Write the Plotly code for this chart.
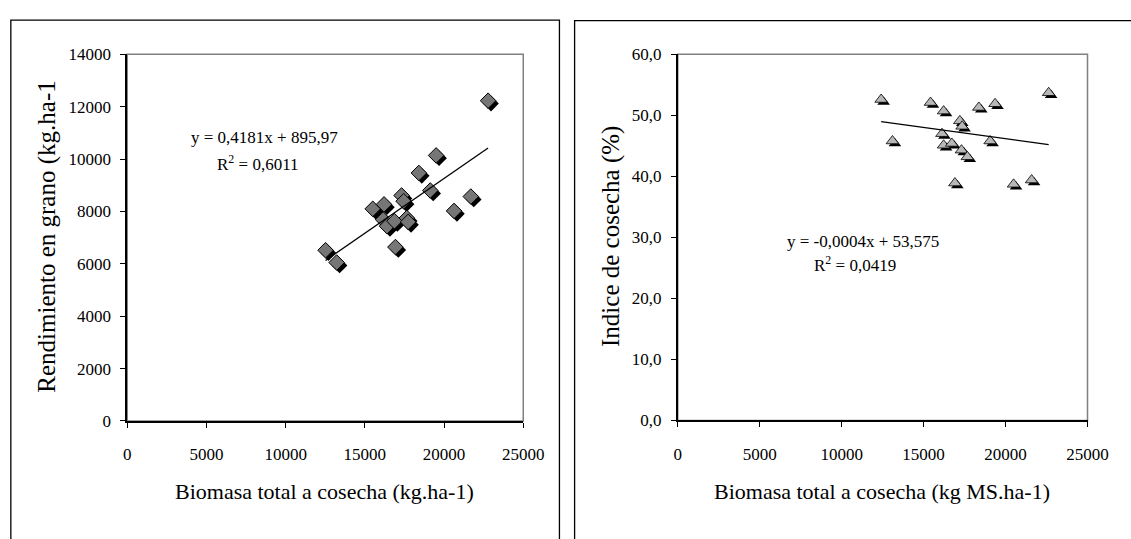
import plotly.graph_objects as go

# ---------------- data ----------------
# Left panel: grain yield vs total biomass
biomasa_izq = [12520, 13220, 15500, 16210, 16150, 16400, 16870, 17320, 17450,
               17650, 17730, 16930, 18410, 19130, 19500, 20630, 21690, 22780]
rendimiento = [6520, 6050, 8100, 8270, 7690, 7440, 7630, 8610, 8390,
               7750, 7600, 6640, 9470, 8800, 10140, 8020, 8570, 12230]

# Right panel: harvest index vs total biomass
biomasa_der = [12410, 13100, 15420, 16220, 17210, 17350, 16120, 16220, 16720,
               17310, 17670, 16910, 18370, 19360, 19060, 20490, 21590, 22630]
indice = [52.6, 45.8, 52.1, 50.7, 49.1, 48.2, 47.0, 45.1, 45.4,
          44.3, 43.2, 38.9, 51.3, 51.9, 45.8, 38.7, 39.4, 53.7]

# Trendline coefficients
pend_izq, inter_izq = 0.4181, 895.97
pend_der, inter_der = -0.00037, 53.575

x_ticks = [0, 5000, 10000, 15000, 20000, 25000]
x_ticklabels = ["0", "5000", "10000", "15000", "20000", "25000"]
y1_ticks = [0, 2000, 4000, 6000, 8000, 10000, 12000, 14000]
y1_ticklabels = ["0", "2000", "4000", "6000", "8000", "10000", "12000", "14000"]
y2_ticks = [0, 10, 20, 30, 40, 50, 60]
y2_ticklabels = ["0,0", "10,0", "20,0", "30,0", "40,0", "50,0", "60,0"]

eq_izq = "y = 0,4181x + 895,97"
r2_izq = "R<sup>2</sup> = 0,6011"
eq_der = "y = -0,0004x + 53,575"
r2_der = "R<sup>2</sup> = 0,0419"

# ---------------- layout helpers ----------------
W, H = 1131, 539
def px(x):
    return x / W
def py(y):
    return 1 - y / H

FONT = "Liberation Serif"

# plot-area pixel boxes
L_x0, L_x1, L_y0, L_y1 = 126, 531, 47, 427
R_x0, R_x1, R_y0, R_y1 = 689, 1108, 47, 426.5

x_rng = [0, 25000]
y1_rng = [0, 14000]
y2_rng = [0, 60]

# shadow offset (pixels) converted to data units via each axis scale
sh = 3.0
dxL = sh * (x_rng[1] - x_rng[0]) / (L_x1 - L_x0)
dyL = sh * (y1_rng[1] - y1_rng[0]) / (L_y1 - L_y0)
sh2 = 2.5
dxR = sh2 * (x_rng[1] - x_rng[0]) / (R_x1 - R_x0)
dyR = sh2 * (y2_rng[1] - y2_rng[0]) / (R_y1 - R_y0)

fig = go.Figure()

# ---- left panel ----
fig.add_trace(go.Scatter(
    x=[v + dxL for v in biomasa_izq], y=[v - dyL for v in rendimiento],
    mode="markers", xaxis="x", yaxis="y",
    marker=dict(symbol="diamond", size=12, color="black",
                line=dict(width=0)),
    hoverinfo="skip", showlegend=False))
fig.add_trace(go.Scatter(
    x=biomasa_izq, y=rendimiento, mode="markers", xaxis="x", yaxis="y",
    marker=dict(symbol="diamond", size=12, color="#767676",
                line=dict(width=1, color="black")),
    showlegend=False))
xl = [min(biomasa_izq), max(biomasa_izq)]
fig.add_trace(go.Scatter(
    x=xl, y=[pend_izq * v + inter_izq for v in xl], mode="lines",
    xaxis="x", yaxis="y", line=dict(color="black", width=1.3),
    showlegend=False))

# ---- right panel ----
fig.add_trace(go.Scatter(
    x=[v + dxR for v in biomasa_der], y=[v - dyR for v in indice],
    mode="markers", xaxis="x2", yaxis="y2",
    marker=dict(symbol="triangle-up", size=11, color="black",
                line=dict(width=0)),
    hoverinfo="skip", showlegend=False))
fig.add_trace(go.Scatter(
    x=biomasa_der, y=indice, mode="markers", xaxis="x2", yaxis="y2",
    marker=dict(symbol="triangle-up", size=11, color="#b8b8b8",
                line=dict(width=0.8, color="black")),
    showlegend=False))
xr = [min(biomasa_der), max(biomasa_der)]
fig.add_trace(go.Scatter(
    x=xr, y=[pend_der * v + inter_der for v in xr], mode="lines",
    xaxis="x2", yaxis="y2", line=dict(color="black", width=1.3),
    showlegend=False))

axis_common = dict(
    showgrid=False, zeroline=False, showline=True, linecolor="black",
    linewidth=1.5, ticks="outside", ticklen=5, tickwidth=1.2,
    tickcolor="black", tickfont=dict(family=FONT, size=17, color="black"),
    fixedrange=True,
)

fig.update_layout(
    width=W, height=H,
    margin=dict(l=0, r=0, t=0, b=0),
    paper_bgcolor="white", plot_bgcolor="white",
    font=dict(family=FONT, color="black"),
    xaxis=dict(domain=[px(L_x0), px(L_x1)], range=x_rng, anchor="y",
               tickvals=x_ticks, ticktext=x_ticklabels,
               ticklabelstandoff=12, **axis_common),
    yaxis=dict(domain=[py(L_y1), py(L_y0)], range=y1_rng, anchor="x",
               tickvals=y1_ticks, ticktext=y1_ticklabels,
               ticklabelstandoff=6, **axis_common),
    xaxis2=dict(domain=[px(R_x0), px(R_x1)], range=x_rng, anchor="y2",
                tickvals=x_ticks, ticktext=x_ticklabels,
                ticklabelstandoff=12, **axis_common),
    yaxis2=dict(domain=[py(R_y1), py(R_y0)], range=y2_rng, anchor="x2",
                tickvals=y2_ticks, ticktext=y2_ticklabels,
                ticklabelstandoff=6, **axis_common),
)

shapes = []
# gray plot-area frames (top/right visible; left/bottom covered by axes)
for xr_, yr_ in (("x domain", "y domain"), ("x2 domain", "y2 domain")):
    shapes.append(dict(type="rect", xref=xr_, yref=yr_, x0=0, x1=1, y0=0, y1=1,
                       line=dict(color="#808080", width=1.5), layer="below"))
# outer chart-area borders
shapes.append(dict(type="rect", xref="paper", yref="paper",
                   x0=px(7), x1=px(568), y0=-0.2, y1=py(11.5),
                   line=dict(color="black", width=1.3)))
shapes.append(dict(type="rect", xref="paper", yref="paper",
                   x0=px(583.5), x1=1.2, y0=-0.2, y1=py(12),
                   line=dict(color="black", width=1.3)))
fig.update_layout(shapes=shapes)

ann = []
def text(x, y, s, size, angle=0):
    ann.append(dict(x=px(x), y=py(y), xref="paper", yref="paper", text=s,
                    showarrow=False, xanchor="center", yanchor="middle",
                    textangle=angle,
                    font=dict(family=FONT, size=size, color="black")))

text(328, 500, "Biomasa total a cosecha (kg.ha-1)", 22)
text(898, 500, "Biomasa total a cosecha (kg MS.ha-1)", 22)
text(44, 236, "Rendimiento en grano (kg.ha-1", 25, -90)
text(620, 236, "Indice de cosecha (%)", 25, -90)
text(266, 133, eq_izq, 17)
text(260, 160, r2_izq, 17)
text(878, 241, eq_der, 17)
text(870, 264, r2_der, 17)
fig.update_layout(annotations=ann)

fig.write_html("out.html")
